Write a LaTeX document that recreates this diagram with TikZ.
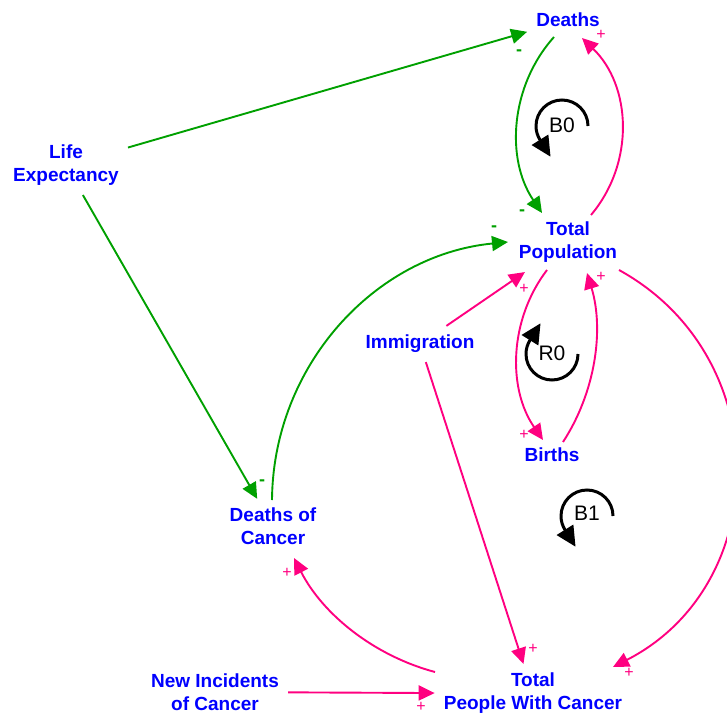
\documentclass[tikz,border=0pt]{standalone}
\usepackage{fontspec}
\setmainfont{Liberation Sans}
\usetikzlibrary{arrows.meta}
\definecolor{linkgreen}{RGB}{0,160,0}
\definecolor{linkpink}{RGB}{255,0,128}
\definecolor{varblue}{RGB}{0,0,255}
\begin{document}
\begin{tikzpicture}[x=1pt,y=1pt,
  var/.style={align=center, inner sep=9pt, text=varblue,
    font=\fontsize{19}{23}\selectfont\bfseries},
  neglink/.style={draw=linkgreen, line width=1.9pt, -{Triangle[length=16pt,width=15pt]}},
  poslink/.style={draw=linkpink, line width=1.9pt, -{Triangle[length=16pt,width=15pt]}},
  possign/.style={inner sep=0pt, text=linkpink, font=\fontsize{16}{16}\selectfont},
  negsign/.style={inner sep=0pt, text=linkgreen, font=\fontsize{18}{18}\selectfont\bfseries},
  looplabel/.style={inner sep=0pt, font=\fontsize{21}{21}\selectfont},
  looparrow/.style={line width=3pt, -{Triangle[length=20pt,width=19pt]}},
]
\useasboundingbox (0,0) rectangle (727,-714);
\clip (0,0) rectangle (727,-714);

% variables
\node[var] (deaths) at (568,-20)    {Deaths};
\node[var] (life)   at (66,-165.5)  {Life\\Expectancy};
\node[var] (tp)     at (568,-242.5) {Total\\Population};
\node[var] (imm)    at (420,-344)   {Immigration};
\node[var] (births) at (552,-455)   {Births};
\node[var] (doc)    at (273,-526.5) {Deaths of\\Cancer};
\node[var] (ni)     at (215,-692)   {New Incidents\\of Cancer};
\node[var] (tpwc)   at (533,-693.5) {Total\\People With Cancer};

% straight links
\draw[neglink] (life) -- (deaths);
\draw[neglink] (life) -- (doc);
\draw[poslink] (imm) -- (tp);
\draw[poslink] (imm) -- (tpwc);
\draw[poslink] (ni) -- (tpwc);

% curved links
\draw[neglink] ([shift={(-14,-17)}]deaths.center) to[bend right=38, looseness=0.95]
  ([shift={(-26,29.5)}]tp.center);
\draw[poslink] ([shift={(23,27.5)}]tp.center) to[bend right=43, looseness=0.99]
  ([shift={(14,-18)}]deaths.center);
\draw[poslink] ([shift={(-21,-27.5)}]tp.center) to[bend right=36, looseness=0.94]
  ([shift={(-9,15)}]births.center);
\draw[poslink] ([shift={(11,13)}]births.center) to[bend right=25, looseness=0.89]
  ([shift={(19,-30.5)}]tp.center);
\draw[neglink] ([shift={(-1,26.5)}]doc.center) to[bend left=42, looseness=0.98]
  ([shift={(-60,0.5)}]tp.center);
\draw[poslink] ([shift={(51,-27.5)}]tp.center) to[bend left=62, looseness=1.16]
  ([shift={(80,26.5)}]tpwc.center);
\draw[poslink] ([shift={(-98,21.5)}]tpwc.center) to[bend left=24, looseness=0.89]
  ([shift={(21,-31.5)}]doc.center);

% link polarities
\node[negsign] (s1)  at (519,-53)  {-};
\node[negsign] (s2)  at (262,-483) {-};
\node[negsign] (s3)  at (522,-213) {-};
\node[possign] (s4)  at (601,-35)    {+};
\node[negsign] (s5)  at (494,-229) {-};
\node[possign] (s6)  at (524,-289)   {+};
\node[possign] (s7)  at (524,-435)   {+};
\node[possign] (s8)  at (601,-277)   {+};
\node[possign] (s9)  at (533,-649)   {+};
\node[possign] (s10) at (629,-673)   {+};
\node[possign] (s11) at (287,-573)   {+};
\node[possign] (s12) at (421,-707)   {+};

% loop markers
\coordinate (b0c) at (562,-126);
\coordinate (r0c) at (552,-354);
\coordinate (b1c) at (587,-516);
\node[looplabel] (b0) at (562,-125) {B0};
\node[looplabel] (r0) at (552,-353) {R0};
\node[looplabel] (b1) at (587,-513) {B1};
\draw[looparrow] ([shift={(26,0)}]b0c) arc[start angle=0, end angle=212, radius=26] -- ++(302:20);
\draw[looparrow] ([shift={(26,0)}]r0c) arc[start angle=0, end angle=-212, radius=26] -- ++(58:20);
\draw[looparrow] ([shift={(26,0)}]b1c) arc[start angle=0, end angle=212, radius=26] -- ++(302:20);
\end{tikzpicture}
\end{document}
